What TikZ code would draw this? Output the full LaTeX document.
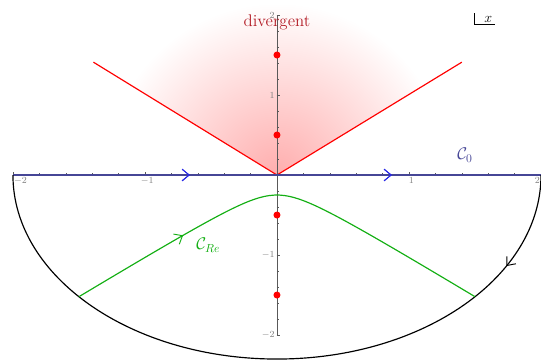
\documentclass[tikz,border=0pt]{standalone}
\usetikzlibrary{arrows.meta,decorations.markings}
\definecolor{contblue}{RGB}{70,70,150}
\definecolor{arrblue}{RGB}{40,40,230}
\definecolor{regreen}{RGB}{20,175,20}
\definecolor{divred}{RGB}{180,30,40}
\tikzset{
  midarrow/.style 2 args={postaction={decorate},decoration={markings,
    mark=at position #1 with {\arrow[color=#2,line width=0.8pt]{Straight Barb[length=6pt,width=10pt]}}}},
  ticklbl/.style={font=\footnotesize,text=gray,inner sep=1.5pt},
  tickline/.style={gray!70!black,line width=0.4pt},
}
\begin{document}
\begin{tikzpicture}[x=3.96cm,y=2.4cm,line width=1pt]
  \useasboundingbox (-2.098,-2.3125) rectangle (2.0,2.1875);
  \coordinate (O) at (0,0);
  % divergent region
  \begin{scope}
    \clip (O) -- (-1.4,1.41) -- (-1.4,2.2) -- (1.4,2.2) -- (1.4,1.41) -- cycle;
    \shade[inner color=red!32,outer color=white] (O) ellipse (1.3 and 2.15);
  \end{scope}
  \draw[red] (-1.39,1.41) -- (O) -- (1.4,1.41);
  % axes
  \draw[tickline] (0,-2) -- (0,2);
  \foreach \i in {-10,...,10} {\draw[tickline] (0,\i/5) -- ++(1.5pt,0);}
  \foreach \i in {-2,-1,1,2} {\draw[tickline] (0,\i) -- ++(3pt,0);}
  \foreach \i in {-10,...,10} {\draw[tickline] (\i/5,0) -- ++(0,1.5pt);}
  \foreach \i in {-2,-1,1,2} {\draw[tickline] (\i,0) -- ++(0,3pt);}
  \node[ticklbl,below right,xshift=-1pt] at (-2,0) {$-2$};
  \foreach \i in {-1,1} {\node[ticklbl,below,xshift=2pt] at (\i,0) {$\i$};}
  \node[ticklbl,below left,xshift=1pt] at (2,0) {$2$};
  \foreach \i in {-2,-1,1,2} {\node[ticklbl,left] at (0,\i) {$\i$};}
  % contours
  \draw[contblue,midarrow={0.335}{arrblue},midarrow={0.7175}{arrblue}] (-2,0) -- (2,0);
  \draw[black,midarrow={0.14}{black}] (2,0) arc (0:-180:2 and 2.3);
  \draw[regreen,midarrow={0.27}{regreen},domain=-1.5:1.5,samples=80]
    plot (\x,{-sqrt(\x*\x+0.0625)});
  \foreach \p in {(0,1.5),(0,0.5),(0,-0.5),(0,-1.5)} {\fill[red] \p circle (3pt);}
  % labels
  \node[divred,font=\Large] (divlbl) at (0,1.9125) {divergent};
  \node[contblue,font=\Large] (czero) at (1.424,0.25) {$\mathcal{C}_0$};
  \node[regreen,font=\Large] (cre) at (-0.52,-0.875) {$\mathcal{C}_{Re}$};
  \node[font=\large,inner sep=2pt] (xlbl) at (1.6,1.95) {$x$};
  \draw[line width=0.8pt] ([xshift=-6pt]xlbl.north west) |- (xlbl.south east);
\end{tikzpicture}
\end{document}
